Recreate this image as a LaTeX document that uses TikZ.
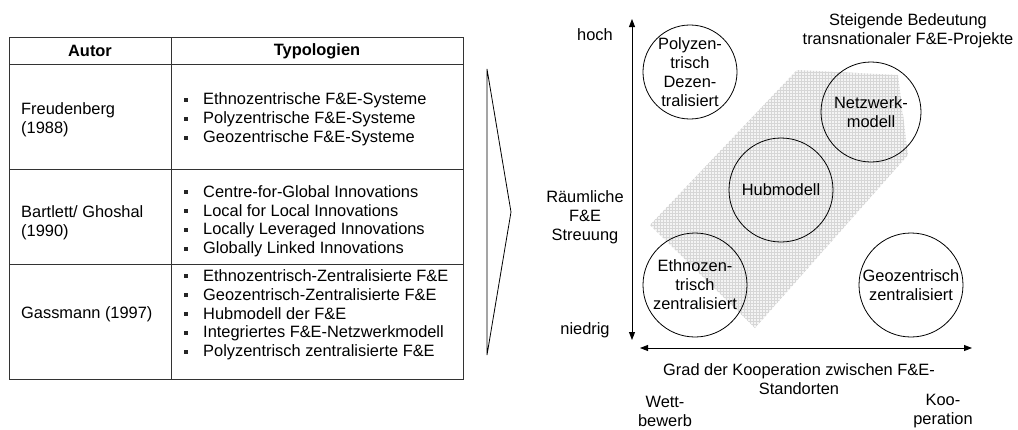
\documentclass[tikz,border=0pt]{standalone}
\usepackage{fontspec}
\setmainfont{Liberation Sans}
\usetikzlibrary{arrows.meta,patterns}
\begin{document}
\begin{tikzpicture}[x=1pt,y=-1pt,
  every node/.style={font=\fontsize{16.4}{19}\selectfont, inner sep=0pt},
  rule/.style={draw=black!80, line width=1pt},
  cell/.style={anchor=west, align=left},
  head/.style={font=\fontsize{16.4}{19}\selectfont\bfseries},
  bul/.style={fill=black!85, minimum size=4pt, inner sep=0pt},
  ring/.style={circle, draw, line width=0.8pt, align=center, inner sep=0pt},
  axis/.style={line width=0.9pt, {Triangle[length=8pt,width=6pt]}-{Triangle[length=8pt,width=6pt]}},
  lbl/.style={align=center}
]
\useasboundingbox (0,0) rectangle (1018,429);

% ---------- table of typologies ----------
\draw[rule] (9,37) rectangle (463,379);
\draw[rule] (9,64) -- (463,64);
\draw[rule] (9,169) -- (463,169);
\draw[rule] (9,264) -- (463,264);
\draw[rule] (171,37) -- (171,379);

\node[head] (hAutor) at (90,51) {Autor};
\node[head] (hTyp) at (317,51) {Typologien};

\node[cell] (a1) at (21,120) {Freudenberg\\(1988)};
\node[cell] (a2) at (21,223) {Bartlett/ Ghoshal\\(1990)};
\node[cell] (a3) at (21,314) {Gassmann (1997)};

\foreach \yy/\tt [count=\i] in {100/Ethnozentrische F\&E-Systeme,
                                119/Polyzentrische F\&E-Systeme,
                                138/Geozentrische F\&E-Systeme}{
  \node[bul] (ba\i) at (186,\yy) {};
  \node[cell] (ta\i) at (203,\yy) {\tt};
}
\foreach \yy/\tt [count=\i] in {192/Centre-for-Global Innovations,
                                211/Local for Local Innovations,
                                230/Locally Leveraged Innovations,
                                249/Globally Linked Innovations}{
  \node[bul] (bb\i) at (186,\yy) {};
  \node[cell] (tb\i) at (203,\yy) {\tt};
}
\foreach \yy/\tt [count=\i] in {276/Ethnozentrisch-Zentralisierte F\&E,
                                295/Geozentrisch-Zentralisierte F\&E,
                                314/Hubmodell der F\&E,
                                333/Integriertes F\&E-Netzwerkmodell,
                                352/Polyzentrisch zentralisierte F\&E}{
  \node[bul] (bc\i) at (186,\yy) {};
  \node[cell] (tc\i) at (203,\yy) {\tt};
}

% ---------- chevron ----------
\draw[line width=0.8pt, line join=miter] (487,69) -- (511,212) -- (487,355) -- cycle;

% ---------- portfolio ----------
\fill[gray!9] (650,225) -- (797,70) -- (898,75) -- (908,155) -- (755,328) -- cycle;
\fill[pattern=grid, pattern color=gray!32] (650,225) -- (797,70) -- (898,75) -- (908,155) -- (755,328) -- cycle;

\coordinate (ytop) at (632,19);
\coordinate (ybot) at (632,340);
\coordinate (xleft) at (640,348);
\coordinate (xright) at (972,348);
\draw[axis] (ybot) -- (ytop);
\draw[axis] (xleft) -- (xright);

\node[lbl] (hoch) at (595,35) {hoch};
\node[lbl] (niedrig) at (585,330) {niedrig};
\node[lbl] (streu) at (585,217) {Räumliche\\F\&E\\Streuung};
\node[lbl] (steig) at (908,31) {Steigende Bedeutung\\transnationaler F\&E-Projekte};
\node[lbl] (grad) at (799,379) {Grad der Kooperation zwischen F\&E-\\Standorten};
\node[lbl] (wett) at (665,411) {Wett-\\bewerb};
\node[lbl] (koop) at (943,411) {Koo-\\peration};

\node[ring, minimum size=86pt] (poly) at (690,72) {Polyzen-\\trisch\\Dezen-\\tralisiert};
\node[ring, minimum size=100pt] (netz) at (871,112) {Netzwerk-\\modell};
\node[ring, minimum size=104pt] (hub) at (781,190) {Hubmodell};
\node[ring, minimum size=104pt] (ethno) at (695,285) {Ethnozen-\\trisch\\zentralisiert};
\node[ring, minimum size=104pt] (geo) at (911,285) {Geozentrisch\\zentralisiert};
\end{tikzpicture}
\end{document}
